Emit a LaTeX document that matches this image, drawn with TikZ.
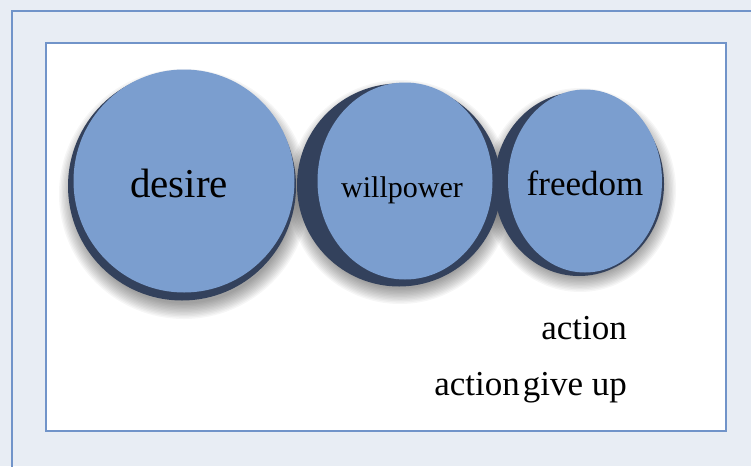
\documentclass[tikz,border=0pt]{standalone}
\usepackage{fontspec}
\setmainfont{Liberation Serif}
\usetikzlibrary{shapes.geometric}
\definecolor{bgout}{HTML}{E8EDF4}
\definecolor{frameblue}{HTML}{7194C9}
\definecolor{face}{HTML}{7B9ECF}
\definecolor{rim}{HTML}{33415C}
\tikzset{
  rimdisc/.style={ellipse, fill=rim, draw=none, inner sep=0pt},
  facedisc/.style={ellipse, fill=face, draw=none, inner sep=0pt},
  lbl/.style={inner sep=0pt, text=black},
  softshade/.style={fill=black, opacity=0.035},
}
\begin{document}
\begin{tikzpicture}[x=1pt,y=-1pt]
\fill[bgout] (0,0) rectangle (751,466);
\useasboundingbox (0,0) rectangle (751,466);
% outer border (top and left visible)
\coordinate (otl) at (11.5,10.5);
\coordinate (otr) at (760,10.5);
\coordinate (obl) at (11.5,475);
\draw[frameblue, line width=2pt] (obl) -- (otl) -- (otr);
% inner frame
\node[draw=frameblue, fill=white, line width=2pt, minimum width=680pt, minimum height=388pt, inner sep=0pt] (frame) at (386,237) {};
% soft shadows
\foreach \cx/\cy/\rx/\ry in {184/194/117/117, 400/192/104/104, 580/190/88/94}{
  \foreach \i in {0,...,11}{
    \fill[softshade] (\cx,\cy) ellipse ({\rx+8-1.4*\i} and {\ry+8-1.4*\i});
  }
}
% desire
\node[rimdisc, minimum width=228pt, minimum height=229pt] (desrim) at (182,186) {};
\node[facedisc, minimum width=221pt, minimum height=223pt] (des) at (184,181) {};
% willpower
\node[rimdisc, minimum width=204pt, minimum height=203pt] (wilrim) at (399,185) {};
\node[facedisc, minimum width=175pt, minimum height=197pt] (wil) at (405,181) {};
% freedom
\node[rimdisc, minimum width=170pt, minimum height=184pt] (frerim) at (579,184) {};
\node[facedisc, minimum width=154pt, minimum height=183pt] (fre) at (585,181) {};
% labels
\node[lbl, anchor=base, font=\fontsize{41}{41}\selectfont] (tdes) at (179,197) {desire};
\node[lbl, anchor=base, font=\fontsize{30}{30}\selectfont] (twil) at (402,197) {willpower};
\node[lbl, anchor=base, font=\fontsize{35}{35}\selectfont] (tfre) at (585,195) {freedom};
\node[lbl, anchor=base east, font=\fontsize{35}{35}\selectfont] (tact) at (627,339) {action};
\node[lbl, anchor=base east, font=\fontsize{35}{35}\selectfont] (tgive) at (627,395) {action\hspace{3pt}give up};
\end{tikzpicture}
\end{document}
